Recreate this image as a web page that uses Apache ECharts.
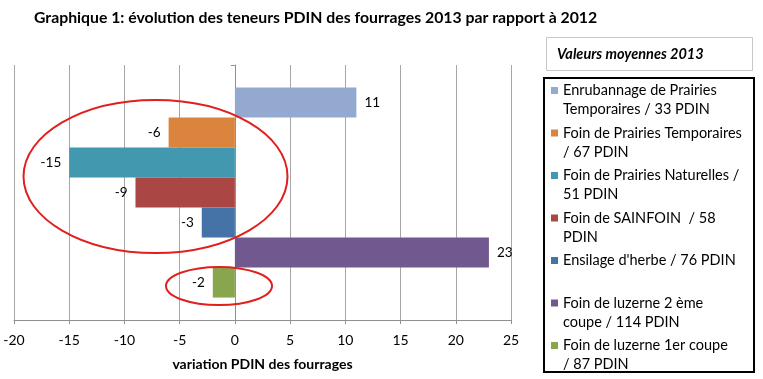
<!DOCTYPE html>
<html><head><meta charset="utf-8">
<script src="https://cdn.jsdelivr.net/npm/echarts@6/dist/echarts.min.js"></script>
<style>html,body{margin:0;padding:0;background:#fff}#c{width:763px;height:379px}</style>
</head><body><div id="c"></div>
<script>
const titleText = 'Graphique 1: évolution des teneurs PDIN des fourrages 2013 par rapport à 2012';
const legendTitle = 'Valeurs moyennes 2013';
const axisName = 'variation PDIN des fourrages';
const categories = [''];
const seriesNames = [
  'Enrubannage de Prairies\nTemporaires / 33 PDIN',
  'Foin de Prairies Temporaires\n/ 67 PDIN',
  'Foin de Prairies Naturelles /\n51 PDIN',
  'Foin de SAINFOIN  / 58\nPDIN',
  "Ensilage d'herbe / 76 PDIN\n ",
  'Foin de luzerne 2 ème\ncoupe / 114 PDIN',
  'Foin de luzerne 1er coupe\n/ 87 PDIN'
];
const values = [11, -6, -15, -9, -3, 23, -2];
const colors = ['#93A9CF', '#DB843D', '#4198AF', '#AA4643', '#4572A7', '#71588F', '#89A54E'];
const xMin = -20, xMax = 25, xStep = 5;

const FONT = 'Lato, "Open Sans", sans-serif';
const chart = echarts.init(document.getElementById('c'), null, {renderer: 'canvas'});

const series = seriesNames.map((name, i) => ({
  type: 'bar',
  name: name,
  data: [values[i]],
  barGap: '0%',
  barCategoryGap: '17.6%',
  itemStyle: {color: colors[i]},
  label: {
    show: true,
    position: values[i] < 0 ? 'left' : 'right',
    distance: 8,
    color: '#000',
    fontFamily: FONT,
    fontSize: 13.5
  },
  animation: false
}));

chart.setOption({
  backgroundColor: '#fff',
  animation: false,
  title: {
    text: titleText,
    left: 29, top: 5,
    textStyle: {fontFamily: FONT, fontSize: 15.8, fontWeight: 'bold', color: '#000'}
  },
  grid: {left: 14, right: 252, top: 65, bottom: 59, containLabel: false},
  xAxis: {
    type: 'value', min: xMin, max: xMax, interval: xStep,
    name: axisName, nameLocation: 'middle', nameGap: 37,
    nameTextStyle: {fontFamily: FONT, fontSize: 14, fontWeight: 'bold', color: '#000'},
    axisLine: {show: true, lineStyle: {color: '#909090'}},
    axisTick: {show: true, length: 4, lineStyle: {color: '#909090'}},
    axisLabel: {fontFamily: FONT, fontSize: 14, color: '#000', margin: 13},
    splitLine: {show: true, lineStyle: {color: '#a6a6a6', width: 1}}
  },
  yAxis: {
    type: 'category', data: categories, inverse: true,
    axisLine: {show: true, onZero: true, lineStyle: {color: '#909090'}},
    axisTick: {show: true, length: 4, lineStyle: {color: '#909090'}},
    axisLabel: {show: false},
    splitLine: {show: false}
  },
  legend: {
    orient: 'vertical', left: 551, top: 81,
    padding: 0, itemGap: 4.5,
    itemWidth: 7, itemHeight: 26,
    icon: 'path://M0,0h7v7h-7z M0,26',
    selectedMode: false,
    textStyle: {fontFamily: FONT, fontSize: 14.5, color: '#000', lineHeight: 19},
    data: seriesNames
  },
  graphic: [
    {type: 'rect', shape: {x: 546.5, y: 37.5, width: 206, height: 33}, style: {fill: '#fff', stroke: '#c8c8c8', lineWidth: 1}},
    {type: 'text', x: 557, y: 54, style: {text: legendTitle, fontFamily: FONT, fontSize: 14.5, fontWeight: 'bold', fontStyle: 'italic', fill: '#000', verticalAlign: 'middle'}},
    {type: 'rect', shape: {x: 544, y: 78, width: 210, height: 294}, style: {fill: 'none', stroke: '#000', lineWidth: 2}, z: 10},
    {type: 'ellipse', shape: {cx: 155.5, cy: 176.5, rx: 132, ry: 76.5}, style: {fill: 'none', stroke: '#E0201F', lineWidth: 2}, z: 20},
    {type: 'ellipse', shape: {cx: 219, cy: 286, rx: 53, ry: 19}, style: {fill: 'none', stroke: '#E0201F', lineWidth: 2}, z: 20}
  ],
  series: series
});
</script></body></html>
